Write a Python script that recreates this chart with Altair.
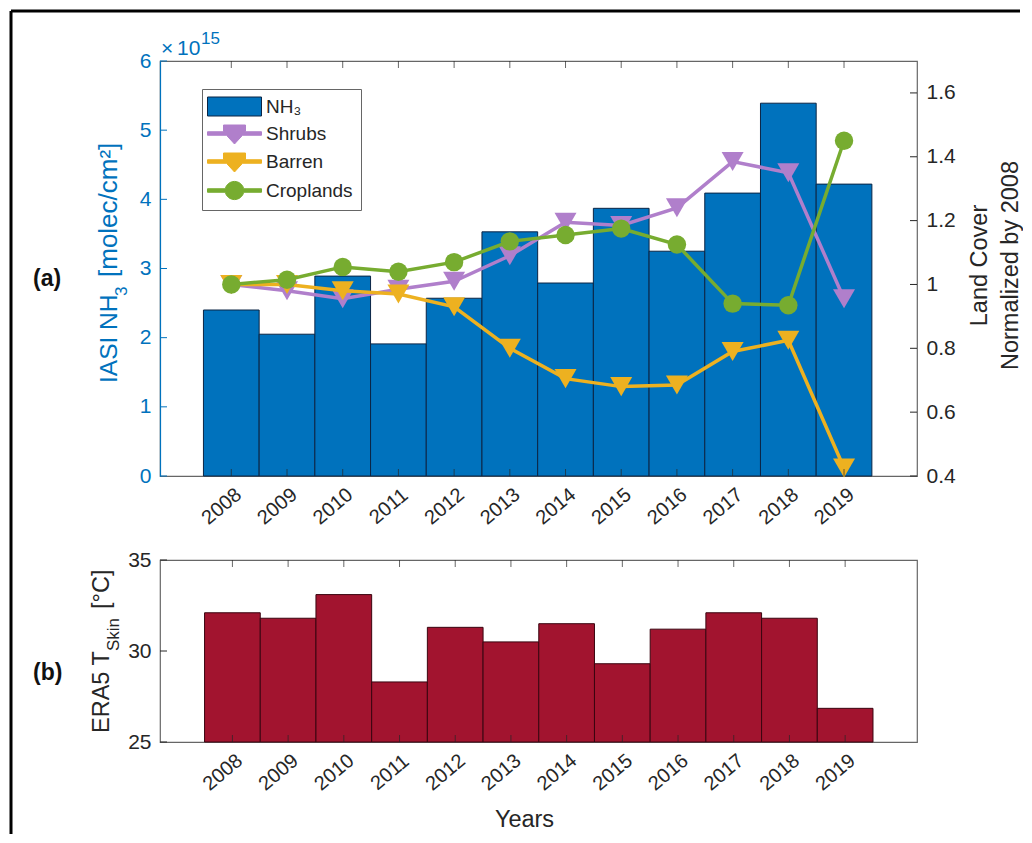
import altair as alt
import pandas as pd

FONT = "Liberation Sans"
years = [2008, 2009, 2010, 2011, 2012, 2013, 2014, 2015, 2016, 2017, 2018, 2019]
nh3 = [2.40, 2.05, 2.89, 1.91, 2.57, 3.53, 2.79, 3.87, 3.25, 4.09, 5.39, 4.22]
shrubs = [1.0, 0.98, 0.955, 0.985, 1.01, 1.09, 1.195, 1.185, 1.24, 1.385, 1.35, 0.955]
barren = [1.0, 1.0, 0.98, 0.97, 0.93, 0.80, 0.705, 0.68, 0.685, 0.79, 0.825, 0.425]
crops = [1.0, 1.015, 1.055, 1.04, 1.07, 1.135, 1.155, 1.175, 1.125, 0.94, 0.935, 1.45]
tskin = [32.1, 31.8, 33.1, 28.3, 31.3, 30.5, 31.5, 29.3, 31.2, 32.1, 31.8, 26.85]
left_ticks = [0, 1, 2, 3, 4, 5, 6]
right_ticks = [0.4, 0.6, 0.8, 1.0, 1.2, 1.4, 1.6]
b_ticks = [25, 30, 35]
names = ["NH₃", "Shrubs", "Barren", "Croplands"]

BLUE = "#0072BD"
PURPLE = "#B07FCB"
ORANGE = "#EDB120"
GREEN = "#77AC30"
RED = "#A2142F"
INK = "#262626"
EDGE = "#666666"
W, HA, HB = 757, 415, 182

xdom = [2006.72, 2020.31]
xdomb = [2006.70, 2020.29]
fill_range = [BLUE, PURPLE, ORANGE, GREEN]
stroke_range = ["#0B2545", PURPLE, ORANGE, GREEN]
# legend swatches: a bar, or a line with a marker on it (unit = half of symbol size)
tri = "M-5.4,-0.35H-2.2V-1.7H2.2V-0.35H5.4V0.35H1.6L0,2.1L-1.6,0.35H-5.4Z"
shape_range = [
    "M-5.4,-1.9H5.4V1.9H-5.4Z",
    tri,
    tri,
    "M-5.4,-0.35H-1.85A1.9,1.9 0 0 1 1.85,-0.35H5.4V0.35H1.85A1.9,1.9 0 0 1 -1.85,0.35H-5.4Z",
]


def xscale(domain):
    return alt.Scale(domain=domain, nice=False, zero=False)


def xaxis(title=None):
    args = dict(
        values=years, format="d", labelAngle=-40, labelFontSize=20, labelColor=INK,
        labelFont=FONT, tickSize=0, labelPadding=30, labelOffset=-10, domain=False, grid=False,
        title=title, labelAlign="center", labelBaseline="middle",
    )
    if title:
        args.update(titleFontSize=23.5, titleFont=FONT, titleFontWeight="normal", titleColor=INK,
                    titleX=364, titleY=84, titleBaseline="alphabetic", titleAlign="center")
    return alt.Axis(**args)


def text(s, x, y, size=23.5, color=INK, angle=0, weight="normal", align="left"):
    return alt.Chart(pd.DataFrame({"t": [s]})).mark_text(
        font=FONT, fontSize=size, color=color, angle=angle, fontWeight=weight, align=align,
        baseline="alphabetic",
    ).encode(text="t:N", x=alt.value(x), y=alt.value(y))


def year_ticks(domain, h, title=None):
    d = pd.DataFrame({"year": years})
    sc = alt.X("year:Q", scale=xscale(domain), axis=xaxis(title))
    low = alt.Chart(d).mark_rule(color=INK, strokeWidth=1, opacity=0.7).encode(
        x=sc, y=alt.value(h), y2=alt.value(h - 7))
    top = alt.Chart(d).mark_rule(color=INK, strokeWidth=1, opacity=0.7).encode(
        x=sc, y=alt.value(0), y2=alt.value(7))
    return [low, top]


# ---- panel (a)
df_a = pd.DataFrame({"year": years, "nh3": nh3})
df_a["x0"] = df_a.year - 0.5
df_a["x1"] = df_a.year + 0.5
df_a["base"] = 0
ya = alt.Scale(domain=[0, 6], nice=False, zero=False)
yr = alt.Scale(domain=[0.4, 1.7], nice=False, zero=False)

left_axis = alt.Axis(
    values=left_ticks, orient="left", tickSize=0, grid=False, labelFontSize=21, labelFont=FONT,
    labelColor=BLUE, labelPadding=9, domainColor=BLUE, domainWidth=1.2,
    title=None)
bars = alt.Chart(df_a).mark_bar(fill=BLUE, stroke="#0B2545", strokeWidth=1).encode(
    x=alt.X("x0:Q", scale=xscale(xdom), axis=xaxis()),
    x2="x1:Q",
    y=alt.Y("nh3:Q", scale=ya, axis=left_axis),
    y2="base:Q",
)
lt = alt.Chart(pd.DataFrame({"v": left_ticks})).mark_rule(color=BLUE, strokeWidth=1).encode(
    y=alt.Y("v:Q", scale=ya, axis=left_axis), x=alt.value(0), x2=alt.value(7))
left_group = alt.layer(bars, lt)

long_rows = []
for nm, vals in [("Shrubs", shrubs), ("Barren", barren), ("Croplands", crops)]:
    for yy, vv in zip(years, vals):
        long_rows.append({"year": yy, "v": vv, "series": nm})
long = pd.DataFrame(long_rows)
xs = alt.X("year:Q", scale=xscale(xdom), axis=xaxis())
right_axis = alt.Axis(
    values=right_ticks, orient="right", tickSize=0, grid=False, labelFontSize=21, labelFont=FONT,
    labelColor=INK, labelPadding=9, labelExpr="datum.value", domain=False,
    title=["Land Cover", "Normalized by 2008"], titleColor=INK, titleFontSize=23.5, titleFont=FONT,
    titleFontWeight="normal", titlePadding=5, titleAngle=270, titleLineHeight=31, titleBaseline="bottom",
    titleY=204)
ys = alt.Y("v:Q", scale=yr, axis=right_axis)

layers = []
for nm, shp, sz in [("Shrubs", "triangle-down", 484), ("Barren", "triangle-down", 484),
                    ("Croplands", "circle", 340)]:
    sub = long[long.series == nm]
    clr = dict(zip(names, fill_range))[nm]
    layers.append(alt.Chart(sub).mark_line(color=clr, strokeWidth=3.5).encode(x=xs, y=ys))
    layers.append(alt.Chart(sub).mark_point(filled=True, shape=shp, size=sz, color=clr, opacity=1).encode(x=xs, y=ys))

rt = alt.Chart(pd.DataFrame({"v": right_ticks})).mark_rule(color=INK, strokeWidth=1).encode(
    y=alt.Y("v:Q", scale=yr, axis=right_axis), x=alt.value(W), x2=alt.value(W - 7))

# the legend's own entries sit left of the visible x range and are clipped away
leg_df = pd.DataFrame({"series": names, "year": [2000.0] * 4, "v": [1.0] * 4})
legend_layer = alt.Chart(leg_df).mark_point(filled=True, size=100, clip=True, opacity=1, strokeWidth=1).encode(
    x=xs, y=ys,
    fill=alt.Fill("series:N", scale=alt.Scale(domain=names, range=fill_range), sort=names, legend=alt.Legend(
        title=None, orient="none", legendX=42, legendY=28, direction="vertical",
        fillColor="white", strokeColor=EDGE, padding=8, labelFont=FONT, labelFontSize=19,
        labelColor=INK, symbolOffset=15, labelOffset=22, rowPadding=5,
        symbolSize=100, symbolStrokeWidth=1)),
    stroke=alt.Stroke("series:N", scale=alt.Scale(domain=names, range=stroke_range), sort=names),
    shape=alt.Shape("series:N", scale=alt.Scale(domain=names, range=shape_range), sort=names),
)
right_group = alt.layer(*layers, rt, legend_layer)

# frame and labels drawn in panel pixels
one = pd.DataFrame({"a": [0]})
frame = alt.Chart(one).mark_rule(color="black", strokeWidth=3).encode(
    x=alt.value(-149), x2=alt.value(860), y=alt.value(-50))
frame_l = alt.Chart(one).mark_rule(color="black", strokeWidth=3).encode(
    x=alt.value(-149), y=alt.value(-50), y2=alt.value(HA))
times = [text("×", 1, -6, size=21, color=BLUE), text("10", 17, -6, size=21, color=BLUE), text("15", 41, -17, size=17, color=BLUE)]
ylab = [
    text("IASI NH", -43.5, 322, size=24.5, color=BLUE, angle=270),
    text("3", -33, 235, size=17, color=BLUE, angle=270),
    text("[molec/cm²]", -43.5, 216, size=26, color=BLUE, angle=270),
]

panel_a = alt.layer(
    left_group, right_group, *year_ticks(xdom, HA), frame, frame_l,
    text("(a)", -127, 225, size=23, weight="bold", color="#111111"),
    *times, *ylab,
).resolve_scale(y="independent").properties(width=W, height=HA)

# ---- panel (b)
df_b = pd.DataFrame({"year": years, "t": tskin})
df_b["x0"] = df_b.year - 0.5
df_b["x1"] = df_b.year + 0.5
df_b["base"] = 25
yb = alt.Scale(domain=[25, 35], nice=False, zero=False)
b_axis = alt.Axis(values=b_ticks, tickSize=0, grid=False, labelFontSize=21, labelFont=FONT, labelColor=INK,
                  labelPadding=9, domain=False, title=None)
bars_b = alt.Chart(df_b).mark_bar(fill=RED, stroke="#3a0510", strokeWidth=1).encode(
    x=alt.X("x0:Q", scale=xscale(xdomb), axis=xaxis("Years")),
    x2="x1:Q",
    y=alt.Y("t:Q", scale=yb, axis=b_axis),
    y2="base:Q",
)
bt = alt.Chart(pd.DataFrame({"t": b_ticks})).mark_rule(color=INK, strokeWidth=1).encode(
    y=alt.Y("t:Q", scale=yb, axis=b_axis), x=alt.value(0), x2=alt.value(7))
frame_b = alt.Chart(one).mark_rule(color="black", strokeWidth=3).encode(
    x=alt.value(-149), y=alt.value(-84), y2=alt.value(HB + 92))
tt = [
    text("ERA5 T", -51.5, 173, angle=270),
    text("Skin", -41.5, 91, size=17, angle=270),
    text("[°C]", -51.5, 49, angle=270),
    text("(b)", -127, 120, size=23, weight="bold", color="#111111"),
]
panel_b = alt.layer(bars_b, bt, *year_ticks(xdomb, HB, "Years"), frame_b, *tt).properties(width=W, height=HB)

chart = alt.vconcat(panel_a, panel_b, spacing=84, bounds="flush").properties(
    padding={"left": 0, "top": 0, "right": 0, "bottom": 0}, background="white"
).configure_view(stroke=EDGE, strokeWidth=1.2)

chart.save("out.html", embed_options={"renderer": "svg", "actions": False})
